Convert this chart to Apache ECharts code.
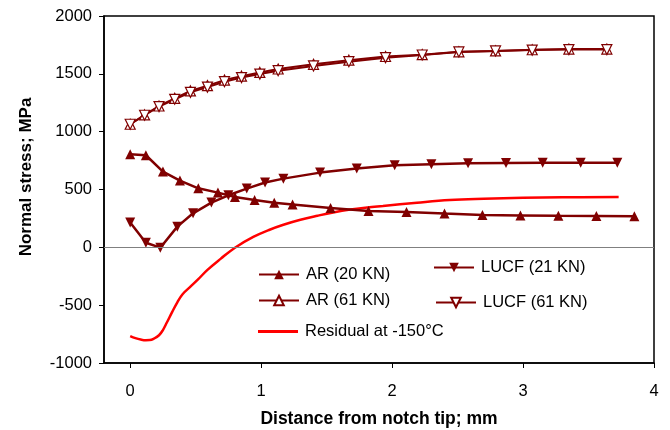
<!DOCTYPE html>
<html>
<head>
<meta charset="utf-8">
<script src="https://cdn.jsdelivr.net/npm/echarts@6/dist/echarts.min.js"></script>
<style>
html,body{margin:0;padding:0;background:#fff;}
#c{width:670px;height:430px;}
</style>
</head>
<body>
<div id="c"></div>
<script>
// ---- data ----
const xTicks = [0, 1, 2, 3, 4];
const yTicks = [-1000, -500, 0, 500, 1000, 1500, 2000];

const ar20X = [0, 0.12, 0.25, 0.38, 0.52, 0.67, 0.80, 0.95, 1.10, 1.24, 1.53, 1.82, 2.11, 2.40, 2.69, 2.98, 3.27, 3.56, 3.85];
const ar20Y = [804, 796, 655, 577, 510, 473, 435, 409, 386, 370, 340, 314, 305, 292, 280, 276, 272, 271, 268];

const lucf21X = [0, 0.12, 0.23, 0.36, 0.48, 0.62, 0.75, 0.89, 1.03, 1.17, 1.45, 1.73, 2.02, 2.30, 2.58, 2.87, 3.15, 3.44, 3.72];
const lucf21Y = [214, 40, -3, 179, 294, 387, 450, 508, 560, 594, 646, 681, 709, 718, 727, 730, 732, 732, 732];

const kn61X = [0, 0.11, 0.22, 0.34, 0.46, 0.59, 0.72, 0.85, 0.99, 1.13, 1.40, 1.67, 1.95, 2.23, 2.51, 2.79, 3.07, 3.35, 3.64];
const ar61Y = [1064, 1145, 1222, 1288, 1352, 1398, 1446, 1480, 1512, 1542, 1582, 1618, 1650, 1666, 1690, 1698, 1708, 1714, 1714];
const lucf61Y = [1064, 1142, 1217, 1280, 1340, 1385, 1432, 1468, 1498, 1527, 1568, 1605, 1640, 1663, 1689, 1698, 1705, 1710, 1710];

const resX = [0, 0.04, 0.08, 0.12, 0.15, 0.18, 0.22, 0.25, 0.28, 0.32, 0.36, 0.40, 0.46, 0.52, 0.59, 0.69, 0.80, 0.94, 1.06, 1.17, 1.30, 1.43, 1.55, 1.68, 1.81, 1.93, 2.19, 2.44, 2.70, 3.00, 3.30, 3.73];
const resY = [-767, -785, -797, -803, -802, -790, -760, -715, -650, -560, -475, -405, -340, -275, -195, -100, -3, 90, 150, 195, 238, 273, 302, 327, 345, 358, 386, 409, 420, 428, 433, 435];

const names = ['AR (20 KN)', 'AR (61 KN)', 'Residual at -150°C', 'LUCF (21 KN)', 'LUCF (61 KN)'];

function pairs(xs, ys) { return xs.map((x, i) => [x, ys[i]]); }

const FONT = '"Liberation Sans", Arial, sans-serif';
const DR = '#800000';

const chart = echarts.init(document.getElementById('c'), null, {renderer: 'canvas'});

function legendAt(name, left, top, extra) {
  return Object.assign({
    data: [name], left: left, top: top, padding: 0, itemGap: 0,
    itemWidth: 40, itemHeight: 12, selectedMode: false,
    textStyle: {fontFamily: FONT, fontSize: 16.5, color: '#000', padding: [0, 0, 0, 2]}
  }, extra || {});
}

chart.setOption({
  animation: false,
  backgroundColor: '#fff',
  grid: {left: 104, right: 16, top: 16, bottom: 67, show: true, borderColor: '#000', borderWidth: 1.5, backgroundColor: 'transparent'},
  xAxis: {
    type: 'value', min: -0.2, max: 4,
    axisLine: {onZero: false, lineStyle: {color: '#000', width: 1.5}},
    axisTick: {show: true, length: 5, lineStyle: {color: '#000', width: 1}, customValues: xTicks},
    axisLabel: {fontFamily: FONT, fontSize: 16.5, color: '#000', margin: 20, customValues: xTicks},
    splitLine: {show: false}
  },
  yAxis: {
    type: 'value', min: yTicks[0], max: yTicks[yTicks.length - 1], interval: 500,
    axisLine: {show: true, onZero: false, lineStyle: {color: '#000', width: 1.5}},
    axisTick: {show: true, length: 5, lineStyle: {color: '#000', width: 1}},
    axisLabel: {fontFamily: FONT, fontSize: 16.5, color: '#000', margin: 12, formatter: v => String(v)},
    splitLine: {show: false}
  },
  legend: [
    legendAt(names[0], 258, 266),
    legendAt(names[1], 258, 292),
    legendAt(names[2], 258, 323, {data: [{name: names[2], icon: 'rect'}], itemHeight: 3}),
    legendAt(names[3], 433, 259),
    legendAt(names[4], 435, 294)
  ],
  graphic: [
    {type: 'text', x: 26, y: 177, rotation: Math.PI / 2,
     style: {text: 'Normal stress; MPa', font: 'bold 17px ' + FONT, fill: '#000', align: 'center', verticalAlign: 'middle'}},
    {type: 'text', x: 379, y: 419,
     style: {text: 'Distance from notch tip; mm', font: 'bold 17.5px ' + FONT, fill: '#000', align: 'center', verticalAlign: 'middle'}}
  ],
  series: [
    {
      name: names[2], type: 'line', data: pairs(resX, resY), smooth: 0.4,
      symbol: 'none', lineStyle: {color: '#ff0000', width: 2.5}, itemStyle: {color: '#ff0000'}, z: 2,
      markLine: {silent: true, symbol: 'none', label: {show: false},
        lineStyle: {color: '#808080', width: 1, type: 'solid'}, data: [{yAxis: 0}]}
    },
    {
      name: names[1], type: 'line', data: pairs(kn61X, ar61Y),
      symbol: 'triangle', symbolSize: 10,
      lineStyle: {color: DR, width: 2}, itemStyle: {color: '#fff', borderColor: DR, borderWidth: 1.2}, z: 3
    },
    {
      name: names[4], type: 'line', data: pairs(kn61X, lucf61Y),
      symbol: 'triangle', symbolSize: 10, symbolRotate: 180,
      lineStyle: {color: DR, width: 2}, itemStyle: {color: '#fff', borderColor: DR, borderWidth: 1.2}, z: 3
    },
    {
      name: names[0], type: 'line', data: pairs(ar20X, ar20Y),
      symbol: 'triangle', symbolSize: 10,
      lineStyle: {color: DR, width: 2.5}, itemStyle: {color: DR}, z: 4
    },
    {
      name: names[3], type: 'line', data: pairs(lucf21X, lucf21Y),
      symbol: 'triangle', symbolSize: 10, symbolRotate: 180,
      lineStyle: {color: DR, width: 2.5}, itemStyle: {color: DR}, z: 4
    }
  ]
});
</script>
</body>
</html>
